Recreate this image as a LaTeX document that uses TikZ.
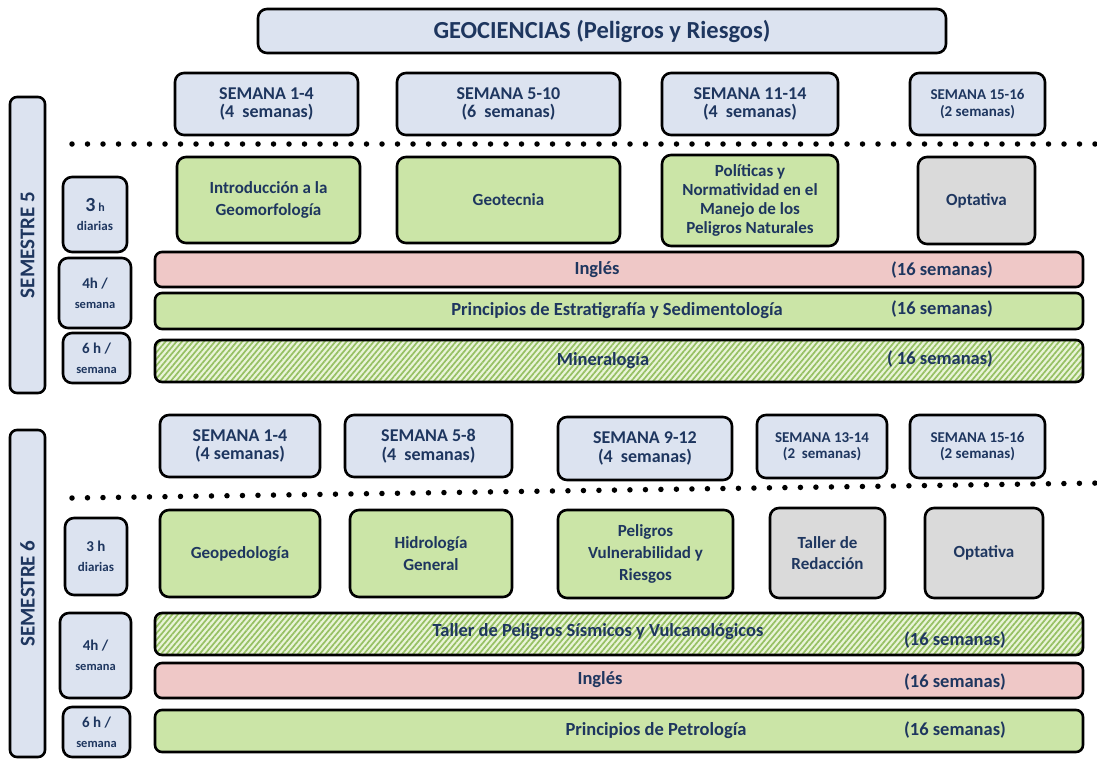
\documentclass[tikz,border=0pt]{standalone}
\usepackage{fontspec}
\setmainfont{Carlito}
\usetikzlibrary{patterns.meta}
\definecolor{bluefill}{HTML}{DCE3F0}
\definecolor{greenfill}{HTML}{CBE5A7}
\definecolor{pinkfill}{HTML}{EFC8C7}
\definecolor{grayfill}{HTML}{DADADA}
\definecolor{navy}{HTML}{1E365F}
\definecolor{hatchbg}{HTML}{E9F4D8}
\definecolor{hatchfg}{HTML}{96C063}
\newcommand\fsl[2]{\fontsize{#1}{#2}\selectfont}
\newcommand\fs[1]{\fontsize{#1}{\fpeval{1.27*#1}}\selectfont}
\newcommand\Bx[7]{\node[#2, minimum width={(#5-#3)*1pt}, minimum height={(#6-#4)*1pt}] (#1) at ({(#3+#5)/2},{(#4+#6)/2}) {#7};}
\tikzset{
  base/.style={draw=black, line width=2.6pt, rounded corners=9pt, inner sep=0pt, outer sep=0pt,
    align=center, text=navy, font=\bfseries\fs{17}},
  bluebox/.style={base, fill=bluefill},
  weekbox/.style={base, fill=bluefill, font=\bfseries\fsl{18}{18.5}},
  smallweek/.style={base, fill=bluefill, font=\bfseries\fsl{15}{16.5}},
  hourbox/.style={base, fill=bluefill},
  greenbox/.style={base, fill=greenfill},
  polbox/.style={base, fill=greenfill, font=\bfseries\fsl{17}{18.7}},
  pinkbox/.style={base, fill=pinkfill, rounded corners=7pt},
  graybox/.style={base, fill=grayfill},
  hatchbox/.style={base, rounded corners=7pt, preaction={fill=hatchbg},
    pattern={Lines[angle=50,distance=4.2pt,line width=1.7pt]}, pattern color=hatchfg},
  barbox/.style={base, fill=greenfill, rounded corners=7pt},
  txt/.style={text=navy, font=\bfseries\fs{18.5}, inner sep=0pt},
  semtxt/.style={text=navy, font=\bfseries\fs{21}, inner sep=0pt, rotate=90},
  titlebox/.style={base, fill=bluefill, font=\bfseries\fs{24.5}},
  dotline/.style={line width=5.5pt, line cap=round, dash pattern=on 0pt off 15.5pt},
}
\begin{document}
\begin{tikzpicture}[x=1pt,y=-1pt]
\useasboundingbox (0,0) rectangle (1097,761);
% title
\Bx{title}{titlebox}{258}{9}{946}{53}{GEOCIENCIAS (Peligros y Riesgos)}
% ---------- Semester 5
\Bx{w51}{weekbox}{175}{73}{358}{135}{SEMANA 1-4\\(4\ \ semanas)}
\Bx{w52}{weekbox}{397}{73}{620}{135}{SEMANA 5-10\\(6\ \ semanas)}
\Bx{w53}{weekbox}{662}{73}{838}{135}{SEMANA 11-14\\(4\ \ semanas)}
\Bx{w54}{smallweek}{910}{73}{1045}{135}{SEMANA 15-16\\(2 semanas)}
\coordinate (d5a) at (72,144);
\coordinate (d5b) at (1100,144);
\draw[dotline] (d5a) -- (d5b);
\Bx{sem5}{bluebox, rounded corners=7pt}{10}{97}{45}{393}{}
\node[semtxt] (sem5t) at (sem5) {SEMESTRE 5};
\Bx{h53}{hourbox}{63}{177}{127}{252}{{\fs{20}3}\,{\fs{12}h}\\[-2pt]{\fs{13}diarias}}
\Bx{h54}{hourbox}{59}{258}{131}{328}{{\fs{15}4h /}\\[-2pt]{\fs{12.5}semana}}
\Bx{h56}{hourbox}{63}{333}{130}{383}{{\fs{15}6 h /}\\[-2pt]{\fs{12.5}semana}}
\Bx{c51}{greenbox}{177}{157}{360}{243}{Introducción a la\\Geomorfología}
\Bx{c52}{greenbox}{397}{157}{620}{243}{Geotecnia}
\Bx{c53}{polbox}{662}{155}{838}{246}{Políticas y\\Normatividad en el\\Manejo de los\\Peligros Naturales}
\Bx{c54}{graybox}{918}{157}{1035}{244}{Optativa}
\Bx{b51}{pinkbox}{155}{252}{1083}{287}{}
\node[txt] (b51t) at (597,270) {Inglés};
\node[txt] (b51s) at (942,270) {(16 semanas)};
\Bx{b52}{barbox}{155}{293}{1083}{329}{}
\node[txt] (b52t) at (617,311) {Principios de Estratigrafía y Sedimentología};
\node[txt] (b52s) at (942,309) {(16 semanas)};
\Bx{b53}{hatchbox}{155}{340}{1083}{382}{}
\node[txt] (b53t) at (603,361) {Mineralogía};
\node[txt] (b53s) at (940,359) {( 16 semanas)};
% ---------- Semester 6
\Bx{w61}{weekbox}{160}{415}{320}{477}{SEMANA 1-4\\(4 semanas)}
\Bx{w62}{weekbox}{345}{415}{512}{477}{SEMANA 5-8\\(4\ \ semanas)}
\Bx{w63}{weekbox}{558}{417}{732}{480}{SEMANA 9-12\\(4\ \ semanas)}
\Bx{w64}{smallweek}{757}{415}{887}{478}{SEMANA 13-14\\(2\ \ semanas)}
\Bx{w65}{smallweek}{910}{415}{1045}{478}{SEMANA 15-16\\(2 semanas)}
\coordinate (d6a) at (72,498);
\coordinate (d6b) at (1100,483);
\draw[dotline] (d6a) -- (d6b);
\Bx{sem6}{bluebox, rounded corners=7pt}{10}{430}{45}{757}{}
\node[semtxt] (sem6t) at (sem6) {SEMESTRE 6};
\Bx{h63}{hourbox}{65}{518}{127}{595}{{\fs{15}3 h}\\[-2pt]{\fs{13}diarias}}
\Bx{h64}{hourbox}{60}{613}{131}{698}{{\fs{15}4h /}\\[-2pt]{\fs{12.5}semana}}
\Bx{h66}{hourbox}{63}{707}{130}{757}{{\fs{15}6 h /}\\[-2pt]{\fs{12.5}semana}}
\Bx{c61}{greenbox}{160}{510}{320}{597}{Geopedología}
\Bx{c62}{greenbox}{350}{510}{512}{597}{Hidrología\\General}
\Bx{c63}{greenbox}{558}{510}{733}{598}{Peligros\\Vulnerabilidad y\\Riesgos}
\Bx{c64}{graybox}{770}{508}{885}{598}{Taller de\\Redacción}
\Bx{c65}{graybox}{925}{508}{1043}{598}{Optativa}
\Bx{b61}{hatchbox}{155}{613}{1083}{655}{}
\node[txt] (b61t) at (598,632) {Taller de Peligros Sísmicos y Vulcanológicos};
\node[txt] (b61s) at (955,640) {(16 semanas)};
\Bx{b62}{pinkbox}{155}{663}{1083}{698}{}
\node[txt] (b62t) at (600,680) {Inglés};
\node[txt] (b62s) at (955,682) {(16 semanas)};
\Bx{b63}{barbox}{155}{710}{1083}{752}{}
\node[txt] (b63t) at (656,731) {Principios de Petrología};
\node[txt] (b63s) at (955,730) {(16 semanas)};
\end{tikzpicture}
\end{document}
